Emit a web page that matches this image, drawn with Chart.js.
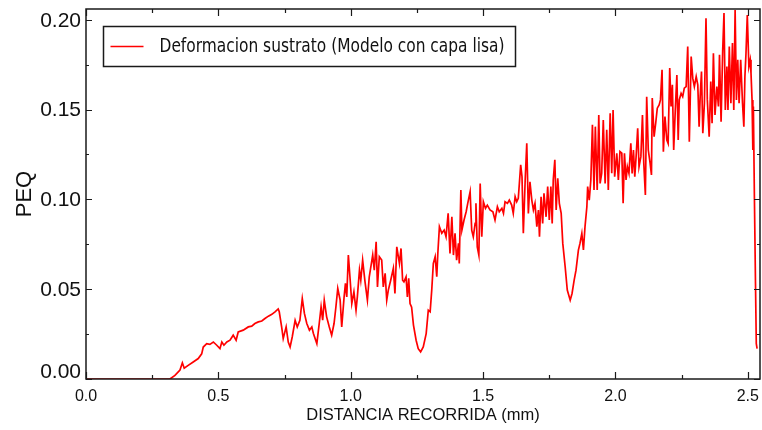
<!DOCTYPE html>
<html>
<head>
<meta charset="utf-8">
<script src="https://cdn.jsdelivr.net/npm/chart.js@4/dist/chart.umd.min.js"></script>
<style>
  html, body { margin: 0; padding: 0; background: #ffffff; }
  #wrap { width: 762px; height: 430px; position: relative; }
</style>
</head>
<body>
<div id="wrap"><canvas id="c"></canvas></div>
<script>
// Distancia recorrida (mm)
const distancia = [
  0, 0.317, 0.336, 0.355, 0.364, 0.371, 0.386, 0.405, 0.424, 0.437,
  0.443, 0.456, 0.468, 0.481, 0.494, 0.506, 0.513, 0.521, 0.532, 0.544,
  0.556, 0.567, 0.575, 0.594, 0.613, 0.626, 0.638, 0.651, 0.664, 0.676,
  0.689, 0.702, 0.714, 0.726, 0.730, 0.739, 0.745, 0.756, 0.764, 0.771,
  0.779, 0.790, 0.798, 0.808, 0.817, 0.825, 0.834, 0.844, 0.853, 0.859,
  0.872, 0.881, 0.888, 0.894, 0.900, 0.909, 0.919, 0.928, 0.937, 0.944,
  0.951, 0.960, 0.966, 0.975, 0.980, 0.985, 0.991, 0.997, 1.004, 1.012,
  1.020, 1.025, 1.033, 1.038, 1.045, 1.054, 1.063, 1.070, 1.077, 1.083,
  1.089, 1.096, 1.101, 1.108, 1.117, 1.123, 1.130, 1.136, 1.142, 1.151,
  1.161, 1.167, 1.174, 1.184, 1.190, 1.196, 1.201, 1.209, 1.214, 1.219,
  1.224, 1.230, 1.237, 1.247, 1.255, 1.264, 1.274, 1.285, 1.293, 1.300,
  1.306, 1.312, 1.319, 1.325, 1.329, 1.335, 1.344, 1.353, 1.360, 1.368,
  1.375, 1.382, 1.388, 1.394, 1.400, 1.407, 1.410, 1.416, 1.420, 1.428,
  1.436, 1.442, 1.451, 1.457, 1.463, 1.470, 1.473, 1.478, 1.484, 1.489,
  1.495, 1.501, 1.509, 1.516, 1.526, 1.537, 1.545, 1.554, 1.561, 1.571,
  1.577, 1.583, 1.592, 1.599, 1.608, 1.614, 1.621, 1.627, 1.633, 1.642,
  1.647, 1.652, 1.659, 1.665, 1.671, 1.677, 1.684, 1.690, 1.696, 1.703,
  1.709, 1.713, 1.719, 1.725, 1.730, 1.738, 1.744, 1.750, 1.756, 1.761,
  1.765, 1.771, 1.776, 1.782, 1.788, 1.795, 1.801, 1.810, 1.818, 1.829,
  1.836, 1.844, 1.851, 1.860, 1.866, 1.873, 1.879, 1.885, 1.892, 1.895,
  1.901, 1.907, 1.913, 1.919, 1.924, 1.931, 1.937, 1.942, 1.948, 1.954,
  1.961, 1.967, 1.973, 1.980, 1.986, 1.991, 1.997, 2.005, 2.011, 2.017,
  2.024, 2.029, 2.034, 2.040, 2.045, 2.051, 2.058, 2.063, 2.068, 2.073,
  2.078, 2.084, 2.089, 2.096, 2.102, 2.107, 2.113, 2.118, 2.124, 2.131,
  2.136, 2.139, 2.146, 2.152, 2.158, 2.165, 2.170, 2.176, 2.181, 2.187,
  2.194, 2.199, 2.205, 2.210, 2.215, 2.220, 2.226, 2.232, 2.237, 2.241,
  2.248, 2.254, 2.260, 2.267, 2.273, 2.279, 2.286, 2.292, 2.298, 2.305,
  2.311, 2.316, 2.320, 2.325, 2.330, 2.336, 2.342, 2.347, 2.354, 2.360,
  2.365, 2.370, 2.376, 2.383, 2.389, 2.393, 2.399, 2.405, 2.410, 2.415,
  2.421, 2.425, 2.430, 2.436, 2.442, 2.447, 2.452, 2.457, 2.462, 2.467,
  2.473, 2.480, 2.485, 2.489, 2.493, 2.498, 2.504, 2.509, 2.512, 2.516,
  2.519, 2.521, 2.525, 2.529, 2.532, 2.535
];

// Deformacion plastica equivalente (PEQ) del sustrato
const peq = [
  0, 0, 0.002, 0.005, 0.009, 0.006, 0.0076, 0.0095, 0.0114, 0.014,
  0.0178, 0.0197, 0.0193, 0.0206, 0.0188, 0.0169, 0.0206, 0.0188, 0.0206, 0.0216,
  0.0244, 0.0216, 0.0262, 0.0272, 0.029, 0.0294, 0.0309, 0.0318, 0.0323, 0.0337,
  0.035, 0.036, 0.0374, 0.039, 0.0374, 0.029, 0.0225, 0.029, 0.0206, 0.0178,
  0.0234, 0.0327, 0.029, 0.0327, 0.0448, 0.0365, 0.0309, 0.0272, 0.029, 0.0253,
  0.0197, 0.0309, 0.0401, 0.0327, 0.0439, 0.0346, 0.029, 0.0244, 0.0309, 0.0401,
  0.0504, 0.0439, 0.029, 0.0457, 0.0532, 0.0457, 0.069, 0.0569, 0.042, 0.0485,
  0.0383, 0.0457, 0.0606, 0.055, 0.0662, 0.0541, 0.0439, 0.0569, 0.0634, 0.069,
  0.0606, 0.0764, 0.0513, 0.0681, 0.0662, 0.0513, 0.0588, 0.0439, 0.0495, 0.055,
  0.0616, 0.0476, 0.0736, 0.0643, 0.0727, 0.055, 0.0541, 0.0569, 0.0457, 0.056,
  0.042, 0.040, 0.030, 0.0216, 0.0169, 0.0151, 0.0178, 0.0253, 0.0383, 0.0374,
  0.0495, 0.0643, 0.0681, 0.0569, 0.0699, 0.0848, 0.0811, 0.0829, 0.0792, 0.0922,
  0.0699, 0.0903, 0.069, 0.0811, 0.0662, 0.0755, 0.0643, 0.1052, 0.0829, 0.0885,
  0.0931, 0.0978, 0.1043, 0.0829, 0.0792, 0.0866, 0.0978, 0.0736, 0.069, 0.1089,
  0.0792, 0.0987, 0.095, 0.0968, 0.0941, 0.0931, 0.0885, 0.0959, 0.0931, 0.095,
  0.0922, 0.0987, 0.0978, 0.0996, 0.0968, 0.0922, 0.1015, 0.0987, 0.1006, 0.1192,
  0.1126, 0.0811, 0.1108, 0.1312, 0.0922, 0.1098, 0.0996, 0.0941, 0.0978, 0.0848,
  0.0941, 0.0792, 0.1015, 0.0866, 0.1034, 0.0903, 0.1071, 0.0885, 0.1071, 0.0866,
  0.1108, 0.122, 0.0941, 0.1117, 0.0978, 0.0922, 0.0755, 0.0625, 0.0495, 0.0439,
  0.0476, 0.055, 0.0606, 0.0718, 0.0755, 0.0811, 0.0718, 0.0848, 0.0959, 0.1071,
  0.0996, 0.1108, 0.1415, 0.1052, 0.1405, 0.1052, 0.147, 0.1089, 0.1145, 0.1442,
  0.1089, 0.1387, 0.1052, 0.148, 0.1145, 0.1498, 0.1126, 0.1257, 0.1108, 0.1266,
  0.1257, 0.0978, 0.1257, 0.1108, 0.1182, 0.1145, 0.1312, 0.1145, 0.1275, 0.1126,
  0.1238, 0.1396, 0.1182, 0.1238, 0.147, 0.1201, 0.1024, 0.1572, 0.1275, 0.1201,
  0.1136, 0.1564, 0.1349, 0.1424, 0.1508, 0.1526, 0.1554, 0.1721, 0.1266, 0.1461,
  0.1331, 0.1312, 0.1731, 0.1517, 0.1638, 0.1275, 0.1498, 0.1693, 0.1331, 0.1554,
  0.159, 0.1572, 0.1619, 0.1628, 0.1851, 0.1321, 0.1795, 0.1675, 0.1628, 0.1684,
  0.1638, 0.1405, 0.1572, 0.1712, 0.1368, 0.1535, 0.2009, 0.1554, 0.1349, 0.1656,
  0.1424, 0.1814, 0.147, 0.1628, 0.1517, 0.1805, 0.1433, 0.1824, 0.2037, 0.1498,
  0.174, 0.1498, 0.1851, 0.1535, 0.187, 0.1498, 0.2054, 0.1554, 0.1777, 0.1535,
  0.1777, 0.1535, 0.1405, 0.1684, 0.181, 0.2026, 0.174, 0.1777, 0.1703, 0.1554,
  0.1275, 0.1517, 0.0996, 0.0532, 0.0197, 0.0169
];

const serieLabel = 'Deformacion sustrato (Modelo con capa lisa)';
const xTitle = 'DISTANCIA RECORRIDA (mm)';
const yTitle = 'PEQ';
const xRange = [0, 2.546];
const yRange = [0, 0.206];

const puntos = distancia.map((d, i) => ({ x: d, y: peq[i] }));

const yTickFont = '21px "Liberation Sans", Arial, sans-serif';

// Box frame with inward major/minor ticks on all four sides,
// plus the y tick labels (kept inside the plot's vertical extent)
const framePlugin = {
  id: 'frame',
  afterDatasetsDraw(chart) {
    const { ctx, chartArea: a, scales: { x, y } } = chart;
    ctx.save();
    ctx.strokeStyle = '#1a1a1a';
    ctx.lineWidth = 1.5;
    ctx.strokeRect(a.left, a.top, a.right - a.left, a.bottom - a.top);
    ctx.lineWidth = 1.2;
    ctx.beginPath();
    for (let i = 0; i * 0.25 <= x.max + 1e-9; i++) {
      const px = Math.round(x.getPixelForValue(i * 0.25)) + 0.5;
      const len = i % 2 === 0 ? 7 : 4;
      ctx.moveTo(px, a.bottom); ctx.lineTo(px, a.bottom - len);
      ctx.moveTo(px, a.top); ctx.lineTo(px, a.top + len);
    }
    for (let j = 0; j * 0.025 <= y.max + 1e-9; j++) {
      const py = Math.round(y.getPixelForValue(j * 0.025)) + 0.5;
      const len = j % 2 === 0 ? 6 : 3;
      ctx.moveTo(a.left, py); ctx.lineTo(a.left + len, py);
      ctx.moveTo(a.right, py); ctx.lineTo(a.right - len, py);
    }
    ctx.stroke();

    ctx.fillStyle = '#111111';
    ctx.font = yTickFont;
    ctx.textAlign = 'right';
    ctx.textBaseline = 'middle';
    const half = 8;
    y.ticks.forEach(t => {
      let py = y.getPixelForValue(t.value);
      py = Math.min(py, a.bottom - half);
      ctx.fillText(t.value.toFixed(2), a.left - 5, py + 1);
    });
    ctx.restore();
  }
};

// Boxed legend in the upper-left corner of the plot
const legendBoxPlugin = {
  id: 'legendBox',
  afterDraw(chart) {
    const { ctx, chartArea: a } = chart;
    const ds = chart.data.datasets[0];
    const bx = a.left + 17.5, by = a.top + 17.5, bw = 412, bh = 40;
    ctx.save();
    ctx.fillStyle = '#ffffff';
    ctx.fillRect(bx, by, bw, bh);
    ctx.strokeStyle = '#1a1a1a';
    ctx.lineWidth = 1.5;
    ctx.strokeRect(bx, by, bw, bh);
    const cy = by + bh / 2;
    ctx.strokeStyle = ds.borderColor;
    ctx.lineWidth = 1.6;
    ctx.beginPath();
    ctx.moveTo(bx + 7, cy); ctx.lineTo(bx + 40, cy);
    ctx.stroke();
    ctx.fillStyle = '#111111';
    ctx.font = '19px "Liberation Sans Narrow", "DejaVu Sans Condensed", "Liberation Sans", sans-serif';
    ctx.textBaseline = 'middle';
    const tx = bx + 56;
    const w = ctx.measureText(ds.label).width;
    const sx = Math.min(1, 345 / w);
    ctx.translate(tx, cy + 1);
    ctx.scale(sx, 1);
    ctx.fillText(ds.label, 0, 0);
    ctx.restore();
  }
};

const bgPlugin = {
  id: 'bg',
  beforeDraw(chart) {
    const { ctx, width, height } = chart;
    ctx.save();
    ctx.fillStyle = '#ffffff';
    ctx.fillRect(0, 0, width, height);
    ctx.restore();
  }
};

Chart.defaults.font.family = '"Liberation Sans", Arial, sans-serif';
Chart.defaults.color = '#111111';

new Chart(document.getElementById('c'), {
  type: 'line',
  data: {
    datasets: [{
      label: serieLabel,
      data: puntos,
      borderColor: '#ff0000',
      borderWidth: 1.7,
      pointRadius: 0,
      tension: 0,
      fill: false
    }]
  },
  options: {
    responsive: true,
    maintainAspectRatio: false,
    animation: false,
    layout: { padding: { top: 9, right: 2, left: 0, bottom: 0 } },
    plugins: { legend: { display: false }, tooltip: { enabled: false } },
    scales: {
      x: {
        type: 'linear',
        min: xRange[0],
        max: xRange[1],
        grid: { display: false, drawTicks: false },
        border: { display: false },
        ticks: {
          stepSize: 0.5,
          includeBounds: false,
          padding: 8,
          font: { size: 16 },
          callback: v => v.toFixed(1)
        },
        title: {
          display: true,
          text: xTitle,
          font: { size: 16.5 },
          padding: { top: 0, bottom: 5 }
        },
        afterFit(scale) {
          scale.height = 51;
          scale.paddingLeft = 0;
          scale.paddingRight = 0;
        }
      },
      y: {
        type: 'linear',
        min: yRange[0],
        max: yRange[1],
        grid: { display: false, drawTicks: false },
        border: { display: false },
        ticks: {
          stepSize: 0.05,
          includeBounds: false,
          display: false,
          callback: v => v.toFixed(2)
        },
        title: {
          display: true,
          text: yTitle,
          font: { size: 22 },
          padding: { top: 12, bottom: 0 }
        },
        afterFit(scale) {
          scale.width = 86;
          scale.paddingTop = 0;
          scale.paddingBottom = 0;
        }
      }
    }
  },
  plugins: [bgPlugin, framePlugin, legendBoxPlugin]
});
</script>
</body>
</html>
